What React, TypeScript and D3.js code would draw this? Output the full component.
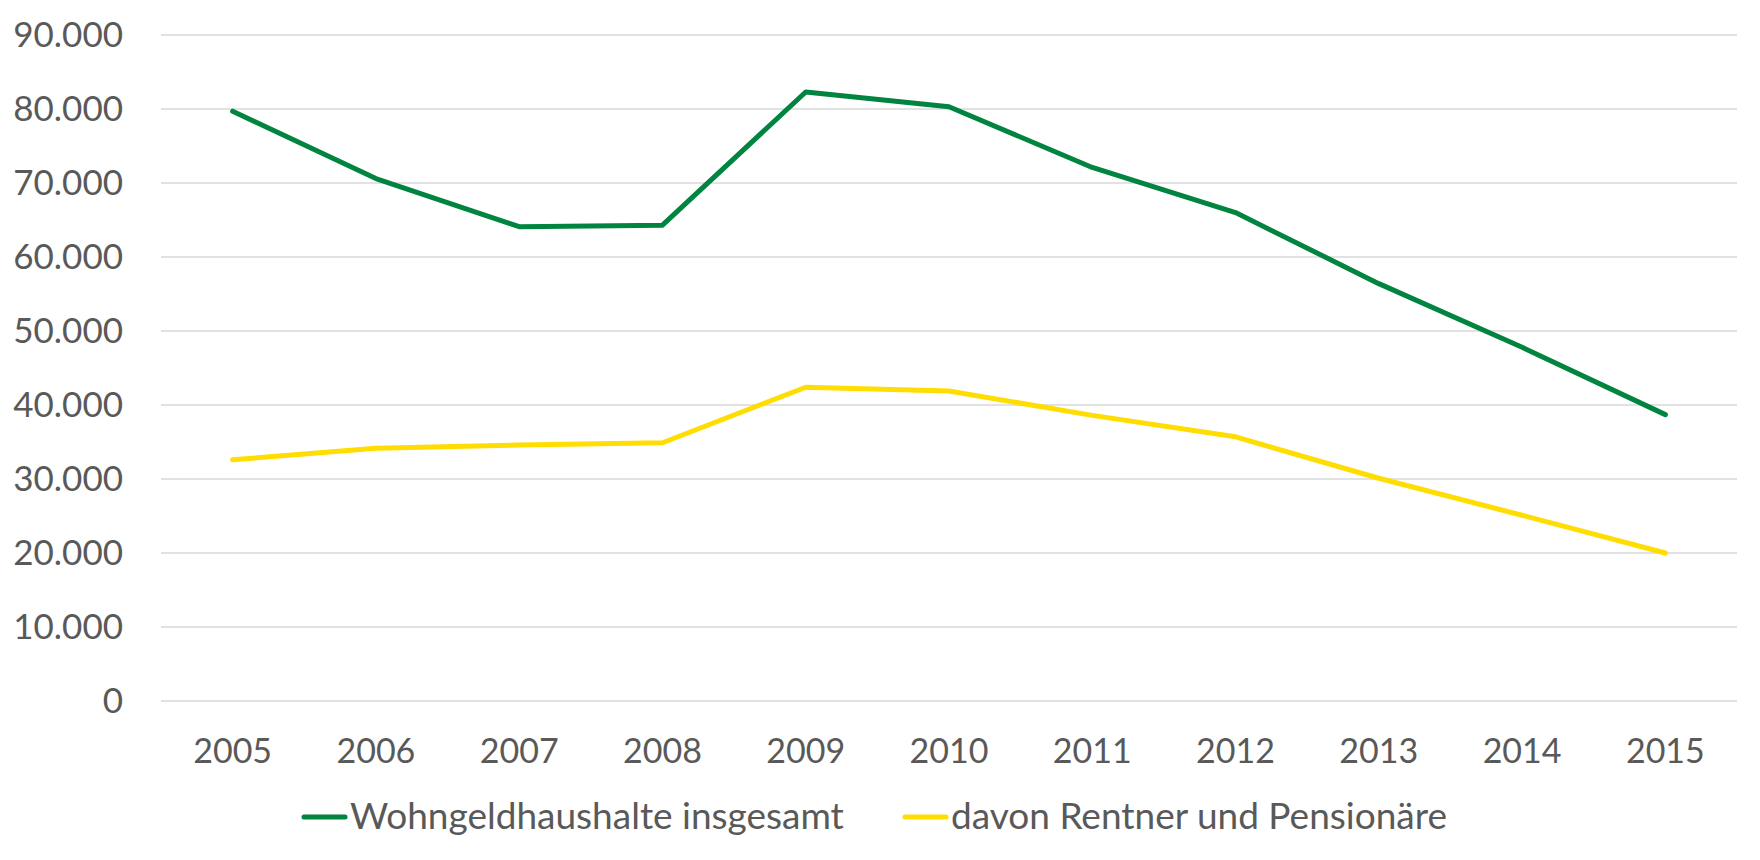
import * as d3 from "d3";
import React from "react";

const years = ["2005", "2006", "2007", "2008", "2009", "2010", "2011", "2012", "2013", "2014", "2015"];
const insgesamt = [79700, 70600, 64100, 64300, 82300, 80300, 72100, 66000, 56400, 47800, 38700];
const rentner = [32600, 34150, 34600, 34900, 42400, 41900, 38600, 35700, 30100, 25100, 20000];
const yTicks = [0, 10000, 20000, 30000, 40000, 50000, 60000, 70000, 80000, 90000];

const seriesNames = ["Wohngeldhaushalte insgesamt", "davon Rentner und Pensionäre"];
const seriesColors = ["#00843f", "#ffdd00"];

const W = 1760;
const H = 860;
const FONT = "Lato, 'Open Sans', sans-serif";
const TEXT = "#595959";

const de = d3.formatLocale({ decimal: ",", thousands: ".", grouping: [3], currency: ["", " €"] });
const fmt = de.format(",");

const App: React.FC = () => {
  const x = d3.scaleBand<string>().domain(years).range([161, 1737]);
  const y = d3.scaleLinear().domain([0, 90000]).range([701, 35]);
  const cx = (yr: string) => (x(yr) || 0) + x.bandwidth() / 2;

  const line = d3
    .line<number>()
    .x((_, i) => cx(years[i]))
    .y((d) => y(d));

  const series = [insgesamt, rentner];
  const legendX = [304, 905];

  return (
    <div style={{ position: "absolute", left: 0, top: 0 }}>
      <svg width={W} height={H} style={{ display: "block", background: "#fff" }}>
        {/* grid */}
        <g>
          {yTicks.map((t) => (
            <line key={t} x1={161} x2={1737} y1={y(t)} y2={y(t)} stroke="#d9d9d9" strokeWidth={1.5} />
          ))}
        </g>
        {/* y labels */}
        <g fontFamily={FONT} fontSize={35} fill={TEXT} textAnchor="end">
          {yTicks.map((t) => (
            <text key={t} x={123} y={y(t) + 12}>
              {fmt(t)}
            </text>
          ))}
        </g>
        {/* x labels */}
        <g fontFamily={FONT} fontSize={34} fill={TEXT} textAnchor="middle">
          {years.map((yr) => (
            <text key={yr} x={cx(yr)} y={763}>
              {yr}
            </text>
          ))}
        </g>
        {/* lines */}
        {series.map((s, i) => (
          <path
            key={i}
            d={line(s) || ""}
            fill="none"
            stroke={seriesColors[i]}
            strokeWidth={5}
            strokeLinejoin="round"
            strokeLinecap="round"
          />
        ))}
        {/* legend */}
        <g fontFamily={FONT} fontSize={37} fill={TEXT}>
          {seriesNames.map((n, i) => (
            <g key={n} transform={`translate(${legendX[i]},817)`}>
              <line x1={0} x2={41} y1={0} y2={0} stroke={seriesColors[i]} strokeWidth={5} strokeLinecap="round" />
              <text x={46} y={12}>
                {n}
              </text>
            </g>
          ))}
        </g>
      </svg>
    </div>
  );
};

export default App;
